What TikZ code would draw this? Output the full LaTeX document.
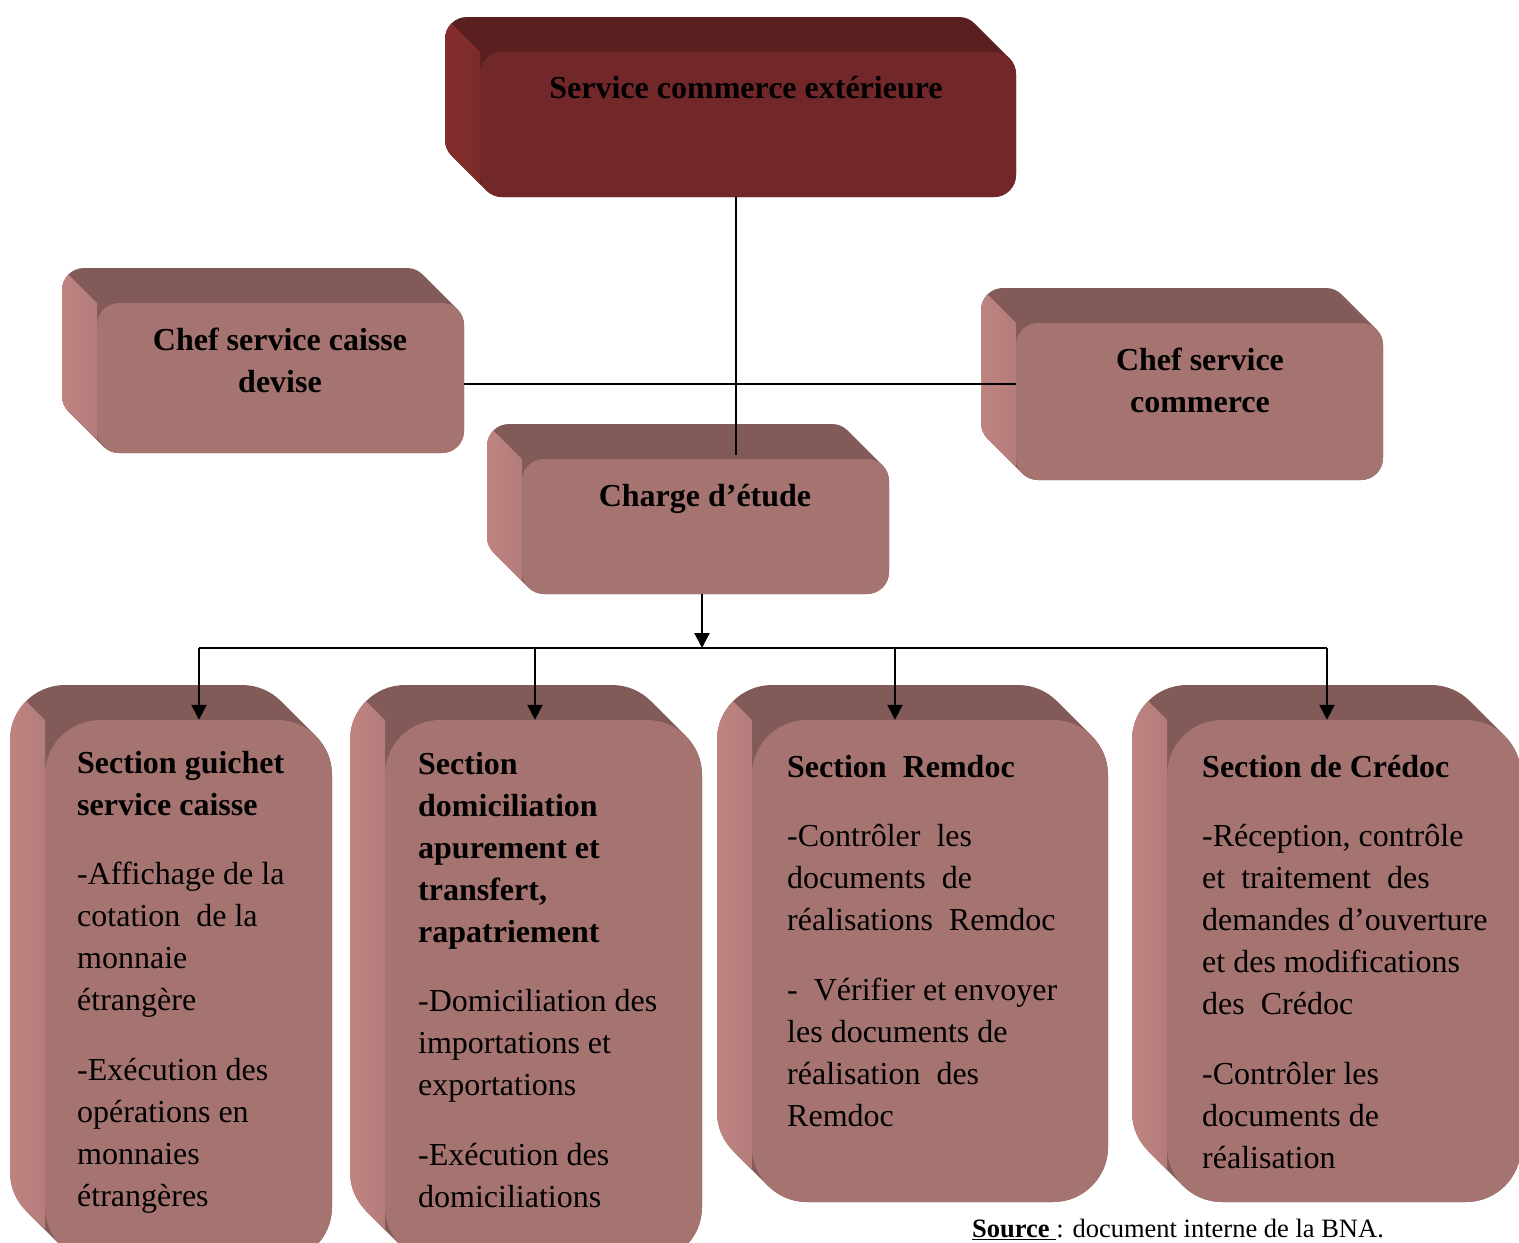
\documentclass[tikz,border=0pt]{standalone}
\usepackage{fontspec}
\setmainfont{Liberation Serif}
\usetikzlibrary{arrows.meta,fit}

\definecolor{rosefront}{HTML}{A57370}
\definecolor{rosetop}{HTML}{825A58}
\definecolor{roseside}{HTML}{BF8482}
\definecolor{winefront}{HTML}{722829}
\definecolor{winetop}{HTML}{5A2020}
\definecolor{wineside}{HTML}{842D2D}

% Bevelled box: front face from (#1,#2) to (#3,#4), swept 35 units towards the upper left.
% #5 corner radius, #6 colour prefix, #7 name of the front face node
\newcommand\cubebox[7]{%
  % body of the box: the front face swept back step by step
  \fill[#6top, rounded corners=#5]
    foreach \t in {0,0.5,...,35} {(#1-\t,#2-\t) rectangle (#3-\t,#4-\t)};
  % side face, below the diagonal through the front top-left corner
  \begin{scope}
    \clip[rounded corners=#5]
      foreach \t in {0,0.5,...,35} {(#1-\t,#2-\t) rectangle (#3-\t,#4-\t)};
    \clip (#1-100,#2-100) -- (#1+1500,#2+1500) -- (#1-100,#2+1500) -- cycle;
    \shade[left color=#6side, right color=#6side!55!#6front]
      (#1-36,#2-40) rectangle (#1,#4+2);
  \end{scope}
  % front face
  \fill[#6front, rounded corners=#5] (#1,#2) rectangle (#3,#4);
  \node[inner sep=0, fit={(#1,#2) (#3,#4)}] (#7) {};
}

\newcommand\leftblock[2]{\parbox[t]{#1}{\raggedright\fontsize{32}{42}\selectfont #2}}
\newcommand\midblock[2]{\parbox[t]{#1}{\centering\bfseries\fontsize{32}{42}\selectfont #2}}

\tikzset{
  label text/.style={inner sep=0, anchor=base},
  block text/.style={inner sep=0, anchor=base west},
  link/.style={line width=1.6pt},
  feed/.style={line width=2.2pt},
  feed arrow/.style={line width=2.2pt, -{Triangle[width=15pt,length=15pt]}},
}

\begin{document}
\begin{tikzpicture}[x=1pt, y=-1pt]
\useasboundingbox (0,0) rectangle (1519,1243);

% boxes
\cubebox{480}{52}{1016}{197}{22}{wine}{title}
\cubebox{97}{303}{464}{453}{22}{rose}{caisse}
\cubebox{1016}{323}{1383}{480}{22}{rose}{commerce}
\cubebox{522}{459}{889}{594}{22}{rose}{charge}
\cubebox{45}{720}{332}{1262}{55}{rose}{guichet}
\cubebox{385}{720}{702}{1262}{55}{rose}{domic}
\cubebox{752}{720}{1108}{1202}{55}{rose}{remdoc}
\cubebox{1167}{720}{1521}{1202}{55}{rose}{credoc}

% upper connectors
\coordinate (stem) at (736,455);
\coordinate (row) at (0,384);
\draw[link] (title.south -| stem) -- (stem);
\draw[link] (caisse.east |- row) -- (commerce.west |- row);

% distribution to the sections
\coordinate (hub) at (702,648);
\coordinate (busL) at (199,648);
\coordinate (busR) at (1327,648);
\coordinate (drop2) at (535,648);
\coordinate (drop3) at (895,648);
\draw[feed arrow] (charge.south -| hub) -- (hub);
\draw[feed] (busL) -- (busR);
\draw[feed arrow] (busL) -- (guichet.north -| busL);
\draw[feed arrow] (drop2) -- (domic.north -| drop2);
\draw[feed arrow] (drop3) -- (remdoc.north -| drop3);
\draw[feed arrow] (busR) -- (credoc.north -| busR);

% titles
\node[label text] (t-title) at (746,98) {\midblock{520pt}{Service commerce extérieure}};
\node[label text] (t-caisse) at (280,350) {\midblock{340pt}{Chef service caisse\\devise}};
\node[label text] (t-commerce) at (1200,370) {\midblock{340pt}{Chef service\\commerce}};
\node[label text] (t-charge) at (705,506) {\midblock{340pt}{Charge d’étude}};

% section contents
\node[block text] (t-guichet) at (77,773) {\leftblock{250pt}{%
  \textbf{Section guichet}\\\textbf{service caisse}\\[27pt]
  -Affichage de la\\cotation\ \ de la\\monnaie\\étrangère\\[28pt]
  -Exécution des\\opérations en\\monnaies\\étrangères}};
\node[block text] (t-domic) at (418,774) {\leftblock{280pt}{%
  \textbf{Section}\\\textbf{domiciliation}\\\textbf{apurement et}\\\textbf{transfert,}\\\textbf{rapatriement}\\[27pt]
  -Domiciliation des\\importations et\\exportations\\[28pt]
  -Exécution des\\domiciliations}};
\node[block text] (t-remdoc) at (787,777) {\leftblock{310pt}{%
  \textbf{Section\ \ Remdoc}\\[27pt]
  -Contrôler\ \ les\\documents\ \ de\\réalisations\ \ Remdoc\\[28pt]
  -\ \ Vérifier et envoyer\\les documents de\\réalisation\ \ des\\Remdoc}};
\node[block text] (t-credoc) at (1202,777) {\leftblock{310pt}{%
  \textbf{Section de Crédoc}\\[27pt]
  -Réception, contrôle\\et\ \ traitement\ \ des\\demandes d’ouverture\\et des modifications\\des\ \ Crédoc\\[28pt]
  -Contrôler les\\documents de\\réalisation}};

% source line
\node[block text, font=\fontsize{26.5}{30}\selectfont] (source) at (972,1237)
  {\underline{\textbf{Source}\ }: document interne de la BNA.};
\end{tikzpicture}
\end{document}
